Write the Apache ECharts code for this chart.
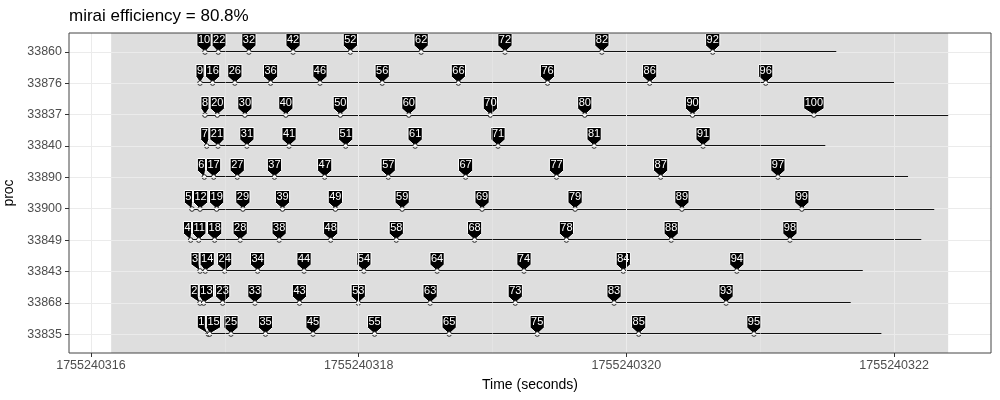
<!DOCTYPE html>
<html>
<head>
<meta charset="utf-8">
<script src="https://cdn.jsdelivr.net/npm/echarts@6/dist/echarts.min.js"></script>
<style>
  html, body { margin: 0; padding: 0; background: #fff; }
  #main { width: 1000px; height: 400px; }
</style>
</head>
<body>
<div id="main"></div>
<script>
const T0 = 1755240316
const procs = ['33860', '33876', '33837', '33840', '33890', '33900', '33849', '33843', '33868', '33835']
const taskIds = [
  [10, 22, 32, 42, 52, 62, 72, 82, 92],
  [9, 16, 26, 36, 46, 56, 66, 76, 86, 96],
  [8, 20, 30, 40, 50, 60, 70, 80, 90, 100],
  [7, 21, 31, 41, 51, 61, 71, 81, 91],
  [6, 17, 27, 37, 47, 57, 67, 77, 87, 97],
  [5, 12, 19, 29, 39, 49, 59, 69, 79, 89, 99],
  [4, 11, 18, 28, 38, 48, 58, 68, 78, 88, 98],
  [3, 14, 24, 34, 44, 54, 64, 74, 84, 94],
  [2, 13, 23, 33, 43, 53, 63, 73, 83, 93],
  [1, 15, 25, 35, 45, 55, 65, 75, 85, 95]
]
// seconds after T0
const taskTimes = [
  [0.852, 0.951, 1.180, 1.510, 1.938, 2.467, 3.093, 3.817, 4.645],
  [0.815, 0.909, 1.075, 1.342, 1.711, 2.176, 2.745, 3.411, 4.174, 5.041],
  [0.852, 0.944, 1.150, 1.456, 1.863, 2.375, 2.984, 3.689, 4.494, 5.401],
  [0.865, 0.949, 1.165, 1.480, 1.903, 2.422, 3.041, 3.759, 4.573],
  [0.847, 0.917, 1.093, 1.371, 1.746, 2.221, 2.799, 3.478, 4.256, 5.132],
  [0.755, 0.815, 0.939, 1.135, 1.431, 1.826, 2.325, 2.922, 3.617, 4.415, 5.311],
  [0.745, 0.805, 0.924, 1.115, 1.406, 1.791, 2.281, 2.866, 3.552, 4.335, 5.222],
  [0.815, 0.854, 0.999, 1.245, 1.592, 2.039, 2.586, 3.235, 3.977, 4.825],
  [0.815, 0.842, 0.984, 1.225, 1.558, 1.997, 2.534, 3.170, 3.908, 4.745],
  [0.876, 0.887, 1.046, 1.304, 1.659, 2.119, 2.676, 3.334, 4.092, 4.953]
]
const procEnd = [5.568, 6.000, 6.404, 5.486, 6.104, 6.300, 6.203, 5.766, 5.676, 5.905]
const busyWindow = [0.151, 6.404]
const majorTicks = [0, 2, 4, 6]
const minorTicks = [1, 3, 5]

// x axis runs in milliseconds after T0
const ms = s => Math.round(s * 1000)

const FONT = '"Liberation Sans", Arial, sans-serif'
const chart = echarts.init(document.getElementById('main'))

// flat list of tags
const ctx = document.createElement('canvas').getContext('2d')
ctx.font = '11px ' + FONT
const tags = []
taskIds.forEach((ids, r) => {
  ids.forEach((id, k) => {
    tags.push({ row: r, x: ms(taskTimes[r][k]), label: String(id), w: ctx.measureText(String(id)).width + 2, dx: 0 })
  })
})

const lineData = procs.map((p, i) => [ms(taskTimes[i][0]), i, ms(procEnd[i])])

function gridLines() {
  const d = []
  procs.forEach((p, i) => d.push({ yAxis: i, lineStyle: { width: 1 } }))
  majorTicks.forEach(t => d.push({ xAxis: ms(t), lineStyle: { width: 1 } }))
  minorTicks.forEach(t => d.push({ xAxis: ms(t), lineStyle: { width: 0.5 } }))
  return d
}

const option = {
  animation: false,
  backgroundColor: '#fff',
  title: {
    text: 'mirai efficiency = 80.8%',
    left: 69, top: 6, padding: 0,
    textStyle: { fontFamily: FONT, fontSize: 17, fontWeight: 'normal', color: '#000', lineHeight: 20 }
  },
  grid: {
    left: 69, right: 9, top: 33, bottom: 47, containLabel: false, outerBoundsMode: 'none',
    show: true, z: 10, backgroundColor: 'transparent', borderColor: '#444', borderWidth: 1
  },
  xAxis: {
    type: 'value', min: -164, max: 6724, z: 10,
    name: 'Time (seconds)', nameLocation: 'middle', nameGap: 25,
    nameTextStyle: { fontFamily: FONT, fontSize: 14, color: '#000' },
    axisLine: { show: false, onZero: false },
    axisTick: { show: true, length: 4, lineStyle: { color: '#333' }, customValues: majorTicks.map(ms) },
    axisLabel: { fontFamily: FONT, fontSize: 12.5, color: '#4d4d4d', margin: 6,
      customValues: majorTicks.map(ms), formatter: v => String(T0 + Math.round(v / 1000)) },
    splitLine: { show: false }
  },
  yAxis: {
    type: 'value', inverse: true, min: -0.6, max: 9.6, z: 10,
    name: 'proc', nameLocation: 'middle', nameGap: 44, nameRotate: 90,
    nameTextStyle: { fontFamily: FONT, fontSize: 14, color: '#000' },
    axisLine: { show: false, onZero: false },
    axisTick: { show: true, length: 4, lineStyle: { color: '#333' }, customValues: procs.map((p, i) => i) },
    axisLabel: { fontFamily: FONT, fontSize: 12.5, color: '#4d4d4d', margin: 7,
      customValues: procs.map((p, i) => i), formatter: v => procs[Math.round(v)] },
    splitLine: { show: false }
  },
  series: [
    {
      type: 'line', data: [], z: 1, silent: true,
      markArea: {
        silent: true,
        itemStyle: { color: '#dedede' },
        data: [[{ xAxis: ms(busyWindow[0]) }, { xAxis: ms(busyWindow[1]) }]]
      }
    },
    {
      type: 'line', data: [], z: 2, silent: true,
      markLine: {
        silent: true, symbol: ['none', 'none'], label: { show: false },
        lineStyle: { color: '#ebebeb', type: 'solid' },
        data: gridLines()
      }
    },
    {
      type: 'custom', z: 3, silent: true,
      encode: { x: [0, 2], y: 1 },
      data: lineData,
      renderItem: (params, api) => {
        const s = api.coord([api.value(0), api.value(1)])
        const e = api.coord([api.value(2), api.value(1)])
        const y = Math.round(s[1])
        return { type: 'rect', shape: { x: s[0], y: y - 1, width: e[0] - s[0], height: 2 }, style: { fill: '#111' } }
      }
    },
    {
      type: 'custom', z: 4, silent: true,
      encode: { x: 0, y: 1 },
      data: tags.map(t => [t.x, t.row]),
      renderItem: (params, api) => {
        const t = tags[params.dataIndex]
        const p = api.coord([api.value(0), api.value(1)])
        p[1] = Math.round(p[1])
        const cx = p[0] + t.dx
        const bottom = p[1] - 6.5
        const top = bottom - 12
        const l = cx - t.w / 2, r = cx + t.w / 2
        return {
          type: 'group',
          children: [
            { type: 'polygon', shape: { points: [[l, top], [r, top], [r, bottom], [p[0], p[1]], [l, bottom]] },
              style: { fill: '#000', stroke: '#fff', lineWidth: 1 } },
            { type: 'text', style: { text: t.label, x: cx, y: (top + bottom) / 2 + 0.5, align: 'center', verticalAlign: 'middle',
              fill: '#fff', font: '11px ' + FONT } },
            { type: 'circle', shape: { cx: p[0], cy: p[1], r: 2.3 }, style: { fill: '#fff', stroke: '#222', lineWidth: 1 } }
          ]
        }
      }
    }
  ]
}

chart.setOption(option)

// simple horizontal repel of overlapping tags within a row
const GAP = 1
procs.forEach((p, r) => {
  const items = tags.filter(t => t.row === r).sort((a, b) => a.x - b.x)
  items.forEach(t => { t.px = chart.convertToPixel({ xAxisIndex: 0 }, t.x) })
  let clusters = items.map(t => ({ members: [t] }))
  const place = c => {
    const total = c.members.reduce((s, t) => s + t.w, 0) + GAP * (c.members.length - 1)
    const center = c.members.reduce((s, t) => s + t.px, 0) / c.members.length
    c.left = center - total / 2
    c.right = c.left + total
  }
  clusters.forEach(place)
  let merged = true
  while (merged) {
    merged = false
    for (let i = 0; i < clusters.length - 1; i++) {
      if (clusters[i].right + GAP > clusters[i + 1].left) {
        clusters[i].members = clusters[i].members.concat(clusters[i + 1].members)
        clusters.splice(i + 1, 1)
        place(clusters[i])
        merged = true
        break
      }
    }
  }
  clusters.forEach(c => {
    let x = c.left
    c.members.forEach(t => {
      t.dx = x + t.w / 2 - t.px
      x += t.w + GAP
    })
  })
})

chart.setOption({ series: option.series })
</script>
</body>
</html>
